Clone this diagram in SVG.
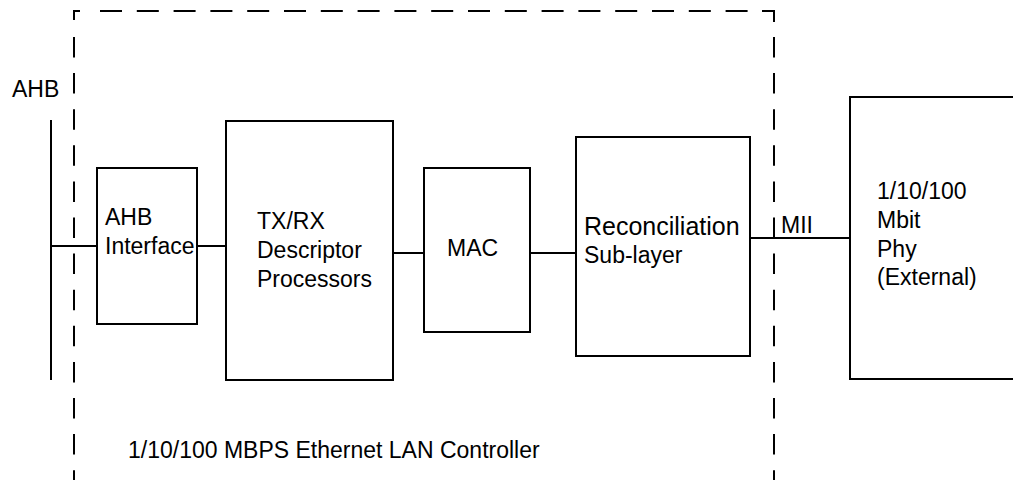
<svg xmlns="http://www.w3.org/2000/svg" width="1013" height="480" viewBox="0 0 1013 480">
<style>
.box{fill:#fff;stroke:#000;stroke-width:2}
.ln{fill:none;stroke:#000;stroke-width:2}
.dh{fill:none;stroke:#000;stroke-width:2;stroke-dasharray:22 14.8}
.dv{fill:none;stroke:#000;stroke-width:2;stroke-dasharray:20.5 15.6}
text{font-family:"Liberation Sans",Arial,Helvetica,sans-serif;font-size:23px;fill:#000}
</style>
<rect width="1013" height="480" fill="#fff"/>
<g id="controller-boundary">
<path class="ln" d="M74,20 V11 H80"/>
<path class="ln" d="M762,11 H774 V22"/>
<line class="dh" x1="100" y1="11" x2="762" y2="11"/>
<line class="dv" x1="74" y1="37" x2="74" y2="480"/>
<line class="dv" x1="774" y1="37" x2="774" y2="480"/>
<text x="128" y="458">1/10/100 MBPS Ethernet LAN Controller</text>
</g>
<g id="connectors">
<line class="ln" x1="51" y1="120" x2="51" y2="380"/>
<line class="ln" x1="51" y1="246" x2="97" y2="246"/>
<line class="ln" x1="197" y1="246" x2="226" y2="246"/>
<line class="ln" x1="393" y1="253" x2="424" y2="253"/>
<line class="ln" x1="530" y1="253" x2="576" y2="253"/>
<line class="ln" x1="750" y1="238" x2="850" y2="238"/>
<text x="12" y="97">AHB</text>
<text x="781" y="233">MII</text>
</g>
<g id="ahb-interface">
<rect class="box" x="97" y="168" width="100" height="156"/>
<text x="105" y="225">AHB</text>
<text x="105" y="254">Interface</text>
</g>
<g id="descriptor-processors">
<rect class="box" x="226" y="121" width="167" height="259"/>
<text x="257" y="229">TX/RX</text>
<text x="257" y="258">Descriptor</text>
<text x="257" y="287">Processors</text>
</g>
<g id="mac">
<rect class="box" x="424" y="168" width="106" height="164"/>
<text x="447" y="256">MAC</text>
</g>
<g id="reconciliation">
<rect class="box" x="576" y="137" width="174" height="219"/>
<text x="584" y="235" style="font-size:25px">Reconciliation</text>
<text x="584" y="263">Sub-layer</text>
</g>
<g id="phy">
<path class="box" d="M1014,97 H850 V379 H1014"/>
<text x="877" y="199">1/10/100</text>
<text x="877" y="228">Mbit</text>
<text x="877" y="257">Phy</text>
<text x="877" y="285">(External)</text>
</g>
</svg>
